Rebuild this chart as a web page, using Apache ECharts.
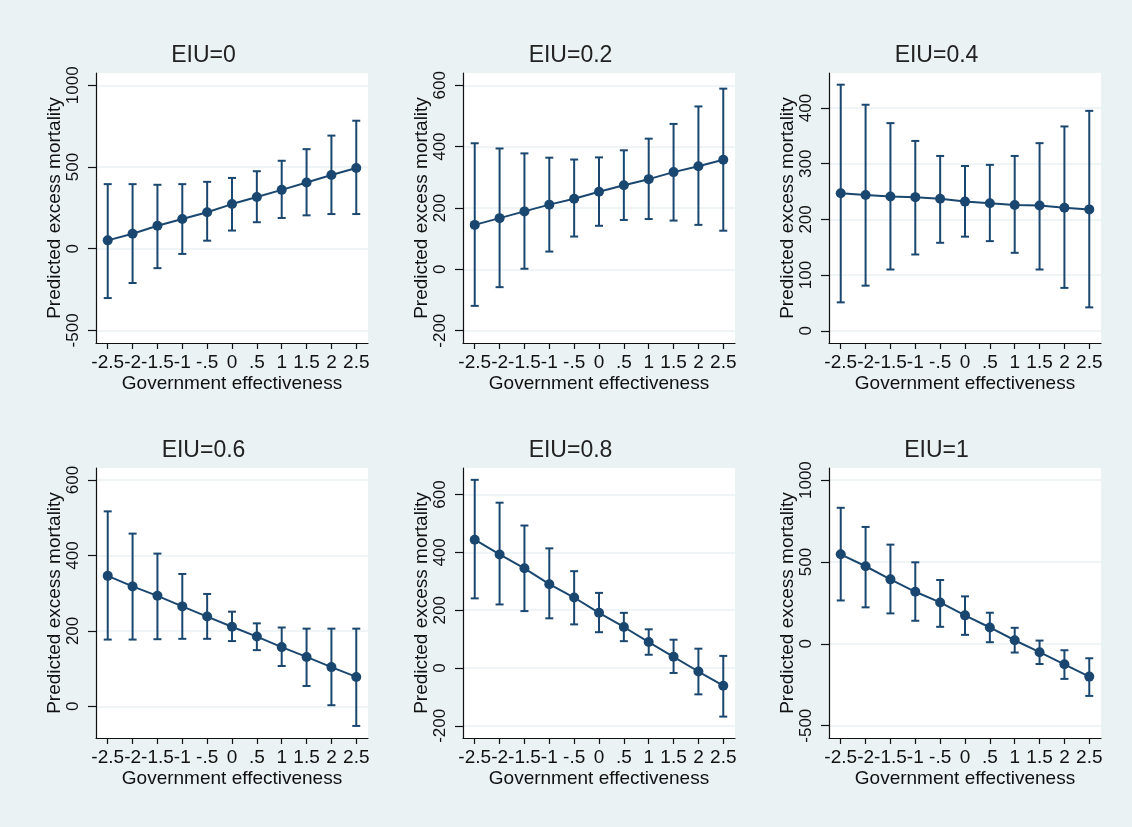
<!DOCTYPE html>
<html>
<head>
<meta charset="utf-8">
<title>Predicted excess mortality by EIU</title>
<script src="https://cdn.jsdelivr.net/npm/echarts@6/dist/echarts.min.js"></script>
<style>
  html, body { margin: 0; padding: 0; background: #fff; }
  #chart { width: 1132px; height: 827px; }
</style>
</head>
<body>
<div id="chart"></div>
<script>
// x values and tick labels (Stata style, no leading zero)
var govEff = [-2.5, -2, -1.5, -1, -0.5, 0, 0.5, 1, 1.5, 2, 2.5];
var xTickLabels = ['-2.5', '-2', '-1.5', '-1', '-.5', '0', '.5', '1', '1.5', '2', '2.5'];

var panelTitles = ['EIU=0', 'EIU=0.2', 'EIU=0.4', 'EIU=0.6', 'EIU=0.8', 'EIU=1'];

// predicted values and 95% CI bounds
var eiu0Pred = [51, 91, 140, 182, 223, 273, 316, 360, 405, 451, 494];
var eiu0Low  = [-302, -210, -119, -32, 49, 111, 162, 188, 204, 212, 212];
var eiu0High = [395, 395, 391, 395, 409, 433, 474, 538, 609, 692, 783];

var eiu02Pred = [145, 167, 189, 211, 230, 253, 274, 294, 317, 336, 357];
var eiu02Low  = [-119, -58, 2, 58, 107, 142, 161, 164, 159, 145, 126];
var eiu02High = [411, 394, 378, 364, 358, 365, 388, 426, 474, 531, 589];

var eiu04Pred = [247, 244, 241, 240, 237, 232, 229, 226, 225, 221, 218];
var eiu04Low  = [51, 81, 110, 137, 158, 169, 161, 140, 110, 77, 42];
var eiu04High = [442, 406, 373, 341, 314, 296, 298, 314, 337, 367, 395];

var eiu06Pred = [346, 318, 293, 265, 238, 211, 185, 157, 131, 104, 78];
var eiu06Low  = [177, 177, 178, 179, 179, 173, 149, 107, 54, 3, -52];
var eiu06High = [517, 458, 405, 351, 298, 251, 220, 209, 206, 206, 206];

var eiu08Pred = [444, 393, 345, 290, 244, 191, 142, 90, 39, -12, -61];
var eiu08Low  = [241, 220, 197, 172, 151, 124, 93, 46, -17, -91, -168];
var eiu08High = [651, 572, 493, 414, 335, 260, 191, 134, 98, 67, 42];

var eiu1Pred = [547, 474, 394, 318, 253, 174, 100, 22, -51, -125, -200];
var eiu1Low  = [265, 223, 186, 141, 104, 55, 10, -53, -123, -214, -318];
var eiu1High = [831, 714, 606, 498, 390, 290, 190, 98, 20, -39, -88];

// y tick labels per panel
var yTicks0  = [-500, 0, 500, 1000];
var yTicks02 = [-200, 0, 200, 400, 600];
var yTicks04 = [0, 100, 200, 300, 400];
var yTicks06 = [0, 200, 400, 600];
var yTicks08 = [-200, 0, 200, 400, 600];
var yTicks1  = [-500, 0, 500, 1000];

var panels = [
    { pred: eiu0Pred,  low: eiu0Low,  high: eiu0High,  ticks: yTicks0,  min: -577, max: 1075 },
    { pred: eiu02Pred, low: eiu02Low, high: eiu02High, ticks: yTicks02, min: -240, max: 640 },
    { pred: eiu04Pred, low: eiu04Low, high: eiu04High, ticks: yTicks04, min: -22,  max: 463 },
    { pred: eiu06Pred, low: eiu06Low, high: eiu06High, ticks: yTicks06, min: -84,  max: 632 },
    { pred: eiu08Pred, low: eiu08Low, high: eiu08High, ticks: yTicks08, min: -242, max: 692 },
    { pred: eiu1Pred,  low: eiu1Low,  high: eiu1High,  ticks: yTicks1,  min: -575, max: 1074 }
];

var navy = '#1a476f';
var fontFam = '"Liberation Sans", Arial, sans-serif';
var colLeft = [96, 463, 829];
var rowTop = [73, 468];
var plotW = 272;
var plotH = 270;

var grids = [], xAxes = [], yAxes = [], series = [], titles = [];

function renderErrorBar(params, api) {
    var x = api.value(0);
    var lo = api.coord([x, api.value(1)]);
    var hi = api.coord([x, api.value(2)]);
    var half = 4;
    var st = { stroke: navy, lineWidth: 2, fill: null };
    return {
        type: 'group',
        children: [
            { type: 'line', shape: { x1: lo[0], y1: lo[1], x2: hi[0], y2: hi[1] }, style: st },
            { type: 'line', shape: { x1: lo[0] - half, y1: lo[1], x2: lo[0] + half, y2: lo[1] }, style: st },
            { type: 'line', shape: { x1: hi[0] - half, y1: hi[1], x2: hi[0] + half, y2: hi[1] }, style: st }
        ]
    };
}

panels.forEach(function (p, i) {
    var col = i % 3, row = Math.floor(i / 3);
    grids.push({
        left: colLeft[col], top: rowTop[row], width: plotW, height: plotH,
        show: true, backgroundColor: '#fff', borderWidth: 0,
        outerBoundsMode: 'none'
    });
    xAxes.push({
        gridIndex: i, type: 'value', min: -2.736, max: 2.736,
        name: 'Government effectiveness', nameLocation: 'middle', nameGap: 31,
        nameTextStyle: { fontSize: 19, fontFamily: fontFam, color: '#111' },
        axisLine: { show: true, onZero: false, lineStyle: { color: '#111', width: 1.2 } },
        axisTick: { show: true, length: 6, customValues: govEff, lineStyle: { color: '#111', width: 1.2 } },
        axisLabel: {
            customValues: govEff, fontSize: 19, fontFamily: fontFam, color: '#111', margin: 10,
            formatter: function (v) {
                var k = govEff.indexOf(Math.round(v * 10) / 10);
                return k >= 0 ? xTickLabels[k] : '';
            }
        },
        splitLine: { show: false }
    });
    yAxes.push({
        gridIndex: i, type: 'value', min: p.min, max: p.max,
        name: 'Predicted excess mortality', nameLocation: 'middle', nameGap: 32,
        nameTextStyle: { fontSize: 19, fontFamily: fontFam, color: '#111' },
        axisLine: { show: true, onZero: false, lineStyle: { color: '#111', width: 1.2 } },
        axisTick: { show: true, length: 8, customValues: p.ticks, lineStyle: { color: '#111', width: 1.2 } },
        axisLabel: {
            customValues: p.ticks, rotate: 90, fontSize: 17, fontFamily: fontFam, color: '#111', margin: 14,
            formatter: function (v) { return String(v); }
        },
        splitLine: { show: true, lineStyle: { color: '#eaf2f3', width: 1.5 } }
    });
    series.push({
        type: 'custom', xAxisIndex: i, yAxisIndex: i,
        renderItem: renderErrorBar,
        encode: { x: 0, y: [1, 2] },
        data: govEff.map(function (x, k) { return [x, p.low[k], p.high[k]]; }),
        z: 2
    });
    series.push({
        type: 'line', xAxisIndex: i, yAxisIndex: i,
        data: govEff.map(function (x, k) { return [x, p.pred[k]]; }),
        symbol: 'circle', symbolSize: 10,
        lineStyle: { color: navy, width: 2 },
        itemStyle: { color: navy },
        z: 3
    });
    titles.push({
        type: 'text',
        x: colLeft[col] + plotW / 2 - 28.5,
        y: row === 0 ? 56 : 451,
        style: {
            text: panelTitles[i], fill: '#222',
            font: '23px ' + fontFam,
            align: 'center', verticalAlign: 'middle'
        }
    });
});

var myChart = echarts.init(document.getElementById('chart'));
myChart.setOption({
    backgroundColor: '#eaf2f3',
    animation: false,
    grid: grids,
    xAxis: xAxes,
    yAxis: yAxes,
    series: series,
    graphic: titles
});
</script>
</body>
</html>
